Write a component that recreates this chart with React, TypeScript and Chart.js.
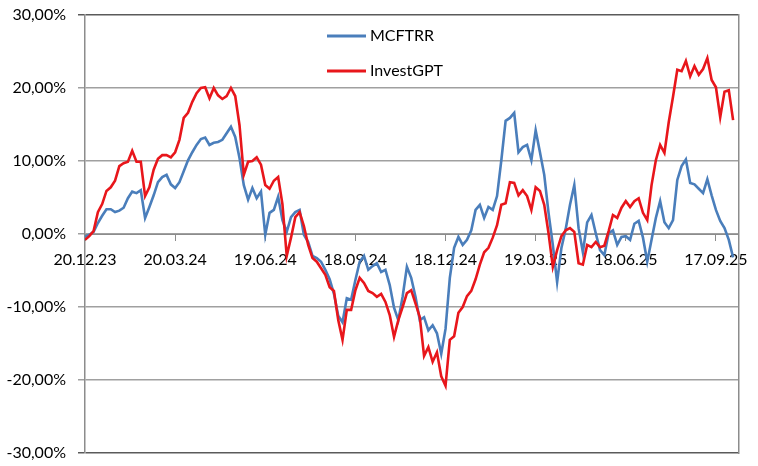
import React, { useEffect, useRef } from "react";
import { Chart, registerables } from "chart.js";

Chart.register(...registerables);

// ---- data ----
const tickLabels = ["20.12.23", "20.03.24", "19.06.24", "18.09.24", "18.12.24", "19.03.25", "18.06.25", "17.09.25"];
const samplesPerTick = 21;
const seriesNames = ["MCFTRR", "InvestGPT"];

const mcftrr = [
  -0.4, -0.1, 0.3, 1.5, 2.5, 3.4, 3.4, 3.0, 3.2, 3.6,
  4.9, 5.8, 5.6, 6.0, 2.2, 3.7, 5.3, 7.1, 7.8, 8.1,
  6.8, 6.3, 7.1, 8.6, 10.1, 11.2, 12.2, 13.0, 13.2, 12.2,
  12.5, 12.6, 12.9, 13.8, 14.7, 13.3, 10.4, 6.7, 4.7, 6.3,
  4.9, 5.8, -0.1, 2.9, 3.3, 5.1, 1.9, 0.3, 2.3, 3.0,
  3.3, -0.1, -1.1, -3.0, -3.3, -3.8, -4.9, -6.2, -8.2, -11.2,
  -12.1, -8.8, -9.0, -6.3, -3.8, -3.0, -4.9, -4.4, -4.0, -5.2,
  -4.9, -7.0, -10.1, -11.8, -8.6, -4.5, -6.0, -8.6, -11.8, -11.4,
  -13.2, -12.5, -13.6, -16.4, -13.0, -6.0, -1.9, -0.4, -1.5, -0.8,
  0.5, 3.3, 4.0, 2.2, 3.7, 3.3, 5.2, 10.1, 15.5, 15.9,
  16.6, 11.2, 11.9, 12.2, 10.1, 14.2, 11.2, 8.1, 2.9, -1.5,
  -6.6, -1.9, 0.7, 4.0, 6.7, 0.8, -2.5, 1.6, 2.6, 0.1,
  -2.2, -2.9, 0.1, 0.5, -1.5, -0.4, -0.3, -0.8, 1.4, 1.8,
  -0.5, -3.8, -0.8, 2.2, 4.5, 1.6, 0.8, 1.9, 7.4, 9.3,
  10.2, 7.0, 6.8, 6.2, 5.6, 7.5, 5.3, 3.3, 1.8, 0.8,
  -0.8, -3.2,
];

const investGpt = [
  -0.8, -0.3, 0.4, 3.0, 4.1, 5.9, 6.4, 7.3, 9.3, 9.7,
  9.9, 11.4, 9.9, 9.9, 5.2, 6.4, 8.8, 10.3, 10.8, 10.8,
  10.5, 11.2, 12.9, 15.9, 16.6, 18.1, 19.3, 20.0, 20.1, 18.6,
  20.0, 19.0, 18.5, 18.9, 20.0, 18.9, 14.9, 8.1, 9.9, 10.0,
  10.5, 9.5, 6.7, 6.2, 7.3, 7.8, 4.1, -3.0, -0.5, 2.3,
  3.0, 1.1, -1.5, -3.3, -3.8, -4.7, -5.6, -7.3, -7.8, -11.8,
  -14.5, -10.4, -10.4, -7.7, -6.0, -6.7, -7.8, -8.1, -8.6, -8.2,
  -9.3, -11.1, -14.1, -11.8, -10.0, -8.1, -7.7, -9.5, -11.4, -16.7,
  -15.5, -17.5, -16.2, -19.5, -20.8, -14.5, -14.0, -10.8, -10.0, -8.5,
  -7.8, -6.2, -4.2, -2.5, -1.9, -0.5, 1.2, 4.0, 4.2, 7.1,
  7.0, 5.3, 6.0, 5.2, 3.3, 6.4, 5.9, 4.0, 0.1, -4.5,
  -2.2, -0.3, 0.5, 0.8, 0.3, -4.0, -4.2, -1.5, -1.8, -1.1,
  -1.8, -1.6, 0.4, 2.6, 2.2, 3.6, 4.5, 3.7, 4.5, 4.9,
  2.9, 1.9, 6.7, 10.1, 12.2, 11.1, 15.3, 18.8, 22.5, 22.3,
  23.7, 21.6, 23.0, 21.8, 22.6, 24.1, 21.1, 20.1, 16.0, 19.5,
  19.7, 15.6,
];

const BLUE = "#4a7ebb";
const RED = "#e8161b";
const FONT = "Lato, 'Open Sans', sans-serif";

const insideLegend = {
  id: "insideLegend",
  afterDraw(chart: any) {
    const { ctx, chartArea } = chart;
    const x0 = chartArea.left + 242;
    const x1 = chartArea.left + 281;
    const tx = chartArea.left + 285;
    const rows = [chartArea.top + 21, chartArea.top + 56];
    ctx.save();
    chart.data.datasets.forEach((ds: any, i: number) => {
      const y = rows[i];
      ctx.strokeStyle = ds.borderColor;
      ctx.lineWidth = 3;
      ctx.beginPath();
      ctx.moveTo(x0, y);
      ctx.lineTo(x1, y);
      ctx.stroke();
      ctx.fillStyle = "#000";
      ctx.font = `16px ${FONT}`;
      ctx.textBaseline = "middle";
      ctx.textAlign = "left";
      ctx.fillText(ds.label, tx, y);
    });
    ctx.restore();
  },
};

export default function App() {
  const ref = useRef<HTMLCanvasElement>(null);

  useEffect(() => {
    document.body.style.margin = "0";
    const canvas = ref.current;
    if (!canvas) return;
    const toPts = (arr: number[]) => arr.map((y, i) => ({ x: i, y }));
    const lastTick = (tickLabels.length - 1) * samplesPerTick;
    const chart = new Chart(canvas, {
      type: "line",
      data: {
        datasets: [
          {
            label: seriesNames[0],
            data: toPts(mcftrr),
            borderColor: BLUE,
            borderWidth: 2.6,
            pointRadius: 0,
            tension: 0,
            order: 1,
          },
          {
            label: seriesNames[1],
            data: toPts(investGpt),
            borderColor: RED,
            borderWidth: 2.6,
            pointRadius: 0,
            tension: 0,
            order: 0,
          },
        ],
      },
      options: {
        animation: false,
        responsive: false,
        layout: { padding: { left: 0, right: 13, top: 15, bottom: 13 } },
        plugins: { legend: { display: false }, tooltip: { enabled: false } },
        scales: {
          x: {
            type: "linear",
            position: { y: 0 } as any,
            min: 0,
            max: lastTick + 5.3,
            afterBuildTicks: (axis: any) => {
              axis.ticks = tickLabels.map((_, i) => ({ value: i * samplesPerTick }));
            },
            afterFit: (scale: any) => {
              scale.paddingTop = 0;
              scale.paddingBottom = 0;
            },
            ticks: {
              autoSkip: false,
              maxRotation: 0,
              color: "#000",
              padding: 10,
              font: { family: FONT, size: 16 },
              callback: (v: any) => tickLabels[Math.round(Number(v) / samplesPerTick)] ?? "",
            },
            grid: { drawOnChartArea: false, drawTicks: true, tickLength: 6, color: "#8c8c8c" },
            border: { display: true, color: "#8c8c8c" },
          },
          y: {
            min: -30,
            max: 30,
            afterFit: (scale: any) => {
              scale.width = 85;
              scale.paddingTop = 0;
              scale.paddingBottom = 0;
            },
            ticks: {
              stepSize: 10,
              color: "#000",
              padding: 12,
              font: { family: FONT, size: 16 },
              callback: (v: any) => Number(v).toFixed(2).replace(".", ",") + "%",
            },
            grid: {
              color: (c: any) => (c.tick && (c.tick.value === 30 || c.tick.value === -30) ? "#5a5a5a" : "#a0a0a0"),
              lineWidth: 1.5,
              tickLength: 7,
            },
            border: { display: true, color: "#8c8c8c", width: 1.5 },
          },
          y2: {
            position: "right",
            min: -30,
            max: 30,
            afterFit: (scale: any) => {
              scale.width = 0;
              scale.paddingTop = 0;
              scale.paddingBottom = 0;
            },
            ticks: { display: false },
            grid: { drawOnChartArea: false, drawTicks: false },
            border: { display: true, color: "#8c8c8c", width: 1.5 },
          },
        },
      },
      plugins: [insideLegend],
    });
    return () => chart.destroy();
  }, []);

  return (
    <div style={{ width: 758, height: 466, background: "#fff" }}>
      <canvas ref={ref} width={758} height={466} style={{ display: "block" }} />
    </div>
  );
}
